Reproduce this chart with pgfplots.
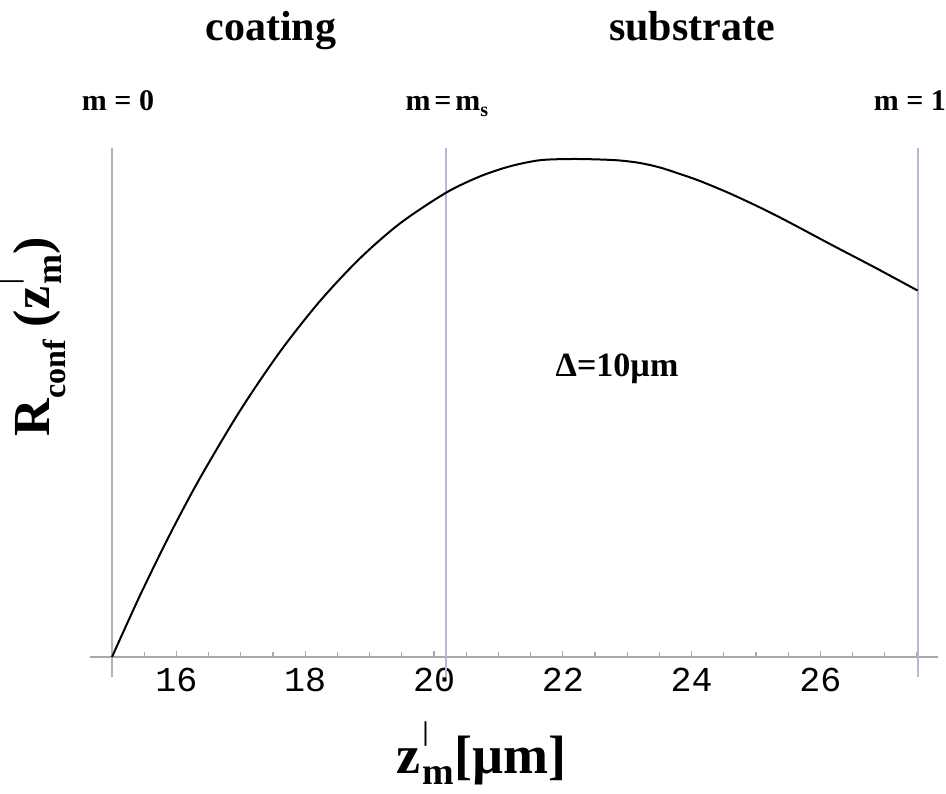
\documentclass[border=0pt]{standalone}
\usepackage{fontspec}
\setmainfont{Liberation Serif}
\setmonofont{Liberation Mono}
\usepackage{pgfplots}
\pgfplotsset{compat=1.18}

\definecolor{guide}{RGB}{184,184,214}
\definecolor{guidegray}{RGB}{178,178,190}
\definecolor{axisgray}{RGB}{168,168,168}

% z'_m with a bar as the prime and a lowered m: #1 size of m, #2 size of the bar
\newcommand{\zprime}[2]{z\kern0.04em\rlap{\raisebox{0.6em}{\fontsize{#2}{#2}\selectfont |}}\raisebox{-0.22em}{\fontsize{#1}{#1}\selectfont m}}

\begin{document}
\begin{tikzpicture}
\begin{axis}[
  x=32.2pt, y=250pt,
  xmin=14.658, xmax=27.826, ymin=0, ymax=1.02,
  axis x line=bottom, axis y line=none,
  x axis line style={axisgray, line width=1.2pt, -},
  xtick={16,18,20,22,24,26},
  xticklabels={16,18,20,22,24,26},
  minor xtick={15,15.5,...,27.5},
  tick align=inside,
  major tick length=3pt, minor tick length=2.6pt,
  tick style={axisgray, line width=0.6pt},
  xticklabel style={font=\ttfamily\fontsize{17.5}{17.5}\selectfont, yshift=-2pt},
  clip=false,
]
% boundaries: coating surface, interface, substrate end
\addplot[guidegray, line width=1pt] coordinates {(15,-0.04) (15,1.018)};
\addplot[guide, line width=1pt] coordinates {(20.18,-0.04) (20.18,1.018)};
\addplot[guide, line width=1pt] coordinates {(27.51,-0.04) (27.51,1.018)};

% confocal response
\addplot[black, line width=1pt, smooth, tension=0.5] coordinates {
  (15,0) (15.435,0.1232) (15.901,0.2456) (16.366,0.3578) (16.988,0.4926)
  (17.609,0.6106) (18.230,0.7120) (18.851,0.7974) (19.472,0.8672)
  (20.182,0.9282) (20.714,0.9612) (21.180,0.9814) (21.646,0.9936)
  (22.143,0.996) (22.578,0.995) (22.888,0.993) (23.199,0.988)
  (23.509,0.979) (23.820,0.966) (24.130,0.952) (24.596,0.927)
  (25.062,0.899) (25.373,0.879) (25.683,0.858) (26.149,0.826)
  (26.460,0.805) (26.817,0.781) (27.236,0.752) (27.508,0.733)
};

\node[anchor=base, font=\bfseries\fontsize{21}{21}\selectfont] at (axis cs:17.469,1.232) {coating};
\node[anchor=base, font=\bfseries\fontsize{21}{21}\selectfont] at (axis cs:24.006,1.232) {substrate};

\node[anchor=base, font=\bfseries\fontsize{15}{15}\selectfont] at (axis cs:15.093,1.094) {m = 0};
\node[anchor=base, font=\bfseries\fontsize{15}{15}\selectfont] at (axis cs:20.20,1.094)
  {m\hspace{0.13em}=\hspace{0.13em}m\raisebox{-0.22em}{\fontsize{10}{10}\selectfont s}};
\node[anchor=base, font=\bfseries\fontsize{15}{15}\selectfont] at (axis cs:27.39,1.094) {m = 1};

\node[anchor=base, font=\bfseries\fontsize{17}{17}\selectfont] at (axis cs:22.842,0.562) {Δ=10µm};

\node[anchor=base, font=\bfseries\fontsize{27}{27}\selectfont] at (axis cs:20.738,-0.232) {\zprime{19}{13.5}[µm]};
\node[rotate=90, font=\bfseries\fontsize{26}{26}\selectfont] at (axis cs:13.773,0.64)
  {R\raisebox{-0.3em}{\fontsize{16}{16}\selectfont conf} (\zprime{18}{13})};

\coordinate (bl) at (axis cs:13.261,-0.272);
\coordinate (tr) at (axis cs:27.950,1.314);
\end{axis}
\pgfresetboundingbox
\path[use as bounding box] (bl) rectangle (tr);
\end{tikzpicture}
\end{document}
